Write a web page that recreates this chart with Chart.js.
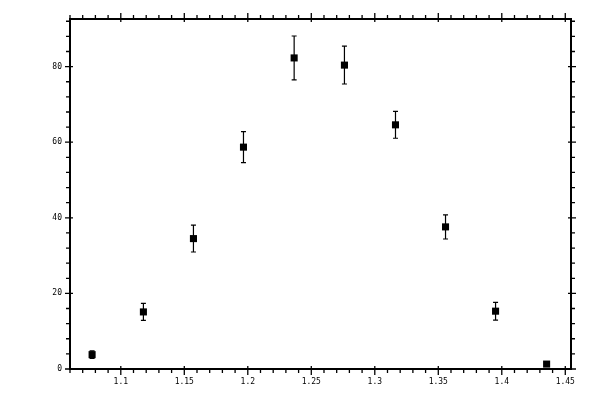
<!DOCTYPE html>
<html>
<head>
<meta charset="utf-8">
<script src="https://cdn.jsdelivr.net/npm/chart.js@4/dist/chart.umd.min.js"></script>
<style>
  body { margin: 0; background: #fff; }
  #wrap { width: 600px; height: 400px; }
</style>
</head>
<body>
<div id="wrap"><canvas id="plot"></canvas></div>
<script>
// measured bin centres and counts
const xVals = [1.0774, 1.1178, 1.1572, 1.1966, 1.2365, 1.2761, 1.3163, 1.3557, 1.3951, 1.4353];
const yVals = [3.8, 15.1, 34.5, 58.7, 82.3, 80.4, 64.6, 37.6, 15.3, 1.3];
const yErr  = [1.0, 2.25, 3.55, 4.1, 5.8, 5.0, 3.55, 3.2, 2.35, 0.6];

const xTicks = [1.1, 1.15, 1.2, 1.25, 1.3, 1.35, 1.4, 1.45];
const xTickLabels = ["1.1", "1.15", "1.2", "1.25", "1.3", "1.35", "1.4", "1.45"];
const yTicks = [0, 20, 40, 60, 80];
const yTickLabels = ["0", "20", "40", "60", "80"];

const X_MIN = 1.06, X_MAX = 1.4545, X_MINOR = 0.01, X_MAJOR = 0.05;
const Y_MIN = 0, Y_MAX = 92.6, Y_MINOR = 4, Y_MAJOR = 20;

// error bars under the markers
const errorBars = {
    id: 'errorBars',
    beforeDatasetsDraw(chart) {
        const ctx = chart.ctx;
        const xs = chart.scales.x, ys = chart.scales.y;
        ctx.save();
        ctx.strokeStyle = '#000';
        ctx.lineWidth = 1.2;
        xVals.forEach(function (x, i) {
            const px = xs.getPixelForValue(x);
            const top = ys.getPixelForValue(yVals[i] + yErr[i]);
            const bot = ys.getPixelForValue(yVals[i] - yErr[i]);
            ctx.beginPath();
            ctx.moveTo(px, top); ctx.lineTo(px, bot);
            ctx.moveTo(px - 2.5, top); ctx.lineTo(px + 2.5, top);
            ctx.moveTo(px - 2.5, bot); ctx.lineTo(px + 2.5, bot);
            ctx.stroke();
        });
        ctx.restore();
    }
};

// frame with mirrored major/minor ticks
const frame = {
    id: 'frame',
    afterDraw(chart) {
        const ctx = chart.ctx;
        const a = chart.chartArea;
        const xs = chart.scales.x, ys = chart.scales.y;
        ctx.save();
        ctx.strokeStyle = '#000';
        ctx.lineWidth = 2;
        ctx.strokeRect(a.left, a.top, a.right - a.left, a.bottom - a.top);

        ctx.lineWidth = 1.3;
        ctx.beginPath();
        const nx = Math.round((X_MAX - X_MIN) / X_MINOR);
        for (let k = 0; k <= nx; k++) {
            const v = X_MIN + k * X_MINOR;
            if (v > X_MAX + 1e-9) break;
            const px = xs.getPixelForValue(v);
            const major = Math.abs(v / X_MAJOR - Math.round(v / X_MAJOR)) < 1e-6;
            const out = major ? 6 : 4, inn = major ? 3 : 0;
            ctx.moveTo(px, a.bottom - inn); ctx.lineTo(px, a.bottom + out);
            ctx.moveTo(px, a.top + inn); ctx.lineTo(px, a.top - out);
        }
        const ny = Math.round((Y_MAX - Y_MIN) / Y_MINOR);
        for (let k = 0; k <= ny; k++) {
            const v = Y_MIN + k * Y_MINOR;
            if (v > Y_MAX) break;
            const py = ys.getPixelForValue(v);
            const major = v % Y_MAJOR === 0;
            const out = major ? 5 : 4, inn = major ? 3 : 0;
            ctx.moveTo(a.left + inn, py); ctx.lineTo(a.left - out, py);
            ctx.moveTo(a.right - inn, py); ctx.lineTo(a.right + out, py);
        }
        ctx.stroke();
        ctx.restore();
    }
};

const tickFont = { family: "'DejaVu Sans Mono', monospace", size: 8 };

new Chart(document.getElementById('plot'), {
    type: 'scatter',
    data: {
        datasets: [{
            data: xVals.map(function (x, i) { return { x: x, y: yVals[i] }; }),
            pointStyle: 'rect',
            pointRadius: 5,
            borderWidth: 0,
            backgroundColor: '#000',
            borderColor: '#000'
        }]
    },
    options: {
        responsive: true,
        maintainAspectRatio: false,
        animation: false,
        events: [],
        layout: { padding: { top: 19, right: 29, left: 0, bottom: 0 } },
        plugins: { legend: { display: false }, tooltip: { enabled: false } },
        scales: {
            x: {
                type: 'linear',
                min: X_MIN,
                max: X_MAX,
                border: { display: false },
                grid: { display: false, drawTicks: false },
                afterBuildTicks: function (scale) {
                    scale.ticks = xTicks.map(function (v) { return { value: v }; });
                },
                afterFit: function (scale) { scale.height = 31; },
                ticks: {
                    color: '#000',
                    font: tickFont,
                    padding: 8,
                    maxRotation: 0,
                    autoSkip: false,
                    callback: function (v, i) { return xTickLabels[i]; }
                }
            },
            y: {
                type: 'linear',
                min: Y_MIN,
                max: Y_MAX,
                border: { display: false },
                grid: { display: false, drawTicks: false },
                afterBuildTicks: function (scale) {
                    scale.ticks = yTicks.map(function (v) { return { value: v }; });
                },
                afterFit: function (scale) { scale.width = 70; },
                ticks: {
                    color: '#000',
                    font: tickFont,
                    padding: 8,
                    autoSkip: false,
                    callback: function (v, i) { return yTickLabels[i]; }
                }
            }
        }
    },
    plugins: [errorBars, frame]
});
</script>
</body>
</html>
